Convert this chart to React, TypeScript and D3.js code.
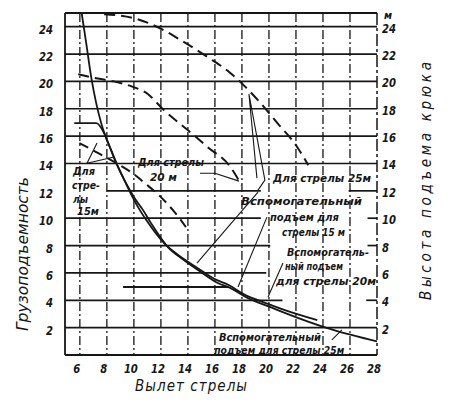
import React from 'react';
import * as d3 from 'd3';

const W = 451;
const H = 404;

// axis ticks
const xTicks = [6, 8, 10, 12, 14, 16, 18, 20, 22, 24, 26, 28];
const yTicksLeft = [2, 4, 6, 8, 10, 12, 14, 16, 18, 20, 22, 24];
const yTicksRight = [2, 4, 6, 8, 10, 12, 14, 16, 18, 20, 22, 24];
const vGridX = [6, 8, 10, 12, 14, 16, 18, 20, 22, 24, 26];

// horizontal grid lines: value and drawn spans (x from..to)
const hGridY = [24, 22, 20, 18, 16, 14, 12, 10, 8, 6, 4, 2];
const hGridSpans: [number, number][][] = [
  [[4.9, 28]],
  [[4.9, 28]],
  [[4.9, 28]],
  [[4.9, 28]],
  [[4.9, 28]],
  [[4.9, 28]],
  [[8.0, 19.4], [25.9, 28]],
  [[4.9, 19.4], [27.3, 28]],
  [[4.9, 20.1], [27.3, 28]],
  [[4.9, 19.8]],
  [[4.9, 21.0], [27.2, 28]],
  [[4.9, 28]],
];

// load capacity curves (solid), [outreach m, load t]
const loadMain: [number, number][] = [
  [6.14, 24.95], [6.47, 22.8], [6.84, 20.31], [7.21, 18.41], [7.58, 16.95],
  [7.95, 15.85], [8.32, 14.98], [8.83, 13.73], [9.42, 12.56], [10.01, 11.54],
  [10.68, 10.59], [11.27, 9.64], [12.52, 7.89], [13.7, 6.94], [14.95, 6.07],
  [16.21, 5.26], [17.16, 4.89], [18.27, 4.24], [20.11, 3.5], [21.07, 3.12],
  [24.76, 1.83], [28.0, 0.99],
];
const loadSecond: [number, number][] = [
  [5.59, 16.95], [7.21, 16.95], [7.8, 16.21], [8.1, 15.49], [8.54, 14.39],
  [9.05, 13.29], [9.64, 12.06], [10.31, 10.81], [10.97, 9.79], [12.22, 8.19],
  [13.48, 7.16], [14.73, 6.35], [15.98, 5.55], [17.02, 5.12], [18.12, 4.45],
  [19.97, 3.72], [21.07, 3.32], [23.58, 2.55],
];
const auxLift15: [number, number][] = [[9.2, 4.97], [17.0, 4.97]];

// hook height curves (dashed), [outreach m, height m]
const hook25: [number, number][] = [
  [7.8, 24.91], [10.01, 24.62], [11.78, 23.96], [13.48, 23.01], [15.47, 21.77],
  [17.16, 20.6], [18.12, 19.73], [19.38, 18.41], [20.63, 16.95], [22.1, 15.19],
  [22.91, 13.88],
];
const hook20: [number, number][] = [
  [5.88, 20.53], [7.21, 20.23], [8.46, 20.01], [9.79, 19.65], [11.05, 19.06],
  [12.22, 17.9], [13.99, 16.44], [15.47, 15.19], [17.16, 13.73], [17.97, 12.42],
];
const hook15: [number, number][] = [
  [5.96, 15.49], [7.36, 14.76], [8.69, 14.03], [9.79, 13.37], [10.9, 12.49],
  [12.0, 11.54], [12.89, 10.59], [13.48, 9.86], [13.85, 9.35],
];

// leader lines of the annotations
const leaders: [number, number][][] = [
  [[14.89, 13.29], [16.0, 13.29], [17.78, 12.71]],
  [[19.11, 12.93], [18.52, 19.07], [19.7, 12.78], [19.19, 12.05]],
  [[7.27, 15.49], [6.53, 14.02], [8.45, 14.46]],
  [[19.19, 11.91], [14.67, 6.72]],
  [[19.85, 10.08], [17.71, 4.97]],
  [[21.04, 6.72], [19.93, 4.24]],
  [[24.66, 1.1], [25.4, 1.83]],
];

export default function App() {
  const x = d3.scaleLinear().domain([4.9, 28]).range([65, 377]);
  const y = d3.scaleLinear().domain([0, 25]).range([355, 13]);
  const curve = d3.line<[number, number]>().x(d => x(d[0])).y(d => y(d[1])).curve(d3.curveMonotoneX);
  const poly = d3.line<[number, number]>().x(d => x(d[0])).y(d => y(d[1]));
  const ink = '#161616';
  const font = '"DejaVu Sans Condensed", "DejaVu Sans", sans-serif';
  const t = { fontFamily: font, fontStyle: 'italic', fontWeight: 700, fill: ink } as const;

  const label = (s: string, xv: number, yv: number, len: number, size = 11) => (
    <text key={s + xv + yv} x={x(xv)} y={y(yv)} fontSize={size} textLength={len} lengthAdjust="spacingAndGlyphs" style={t}>{s}</text>
  );
  const tickLen = (v: number) => (v >= 10 ? 14 : 7);

  return (
    <svg width={W} height={H} style={{ position: 'absolute', left: 0, top: 0, background: '#fff' }}>
      <rect x={0} y={0} width={W} height={H} fill="#fff" />
      {/* vertical grid */}
      {vGridX.map(v => (
        <line key={'v' + v} x1={x(v)} x2={x(v)} y1={y(25)} y2={y(0)} stroke={ink} strokeWidth={1.3} strokeDasharray="9 3 2 3" />
      ))}
      {/* horizontal grid */}
      {hGridY.map((v, i) => hGridSpans[i].map((s, j) => (
        <line key={'h' + v + '-' + j} x1={x(s[0])} x2={x(s[1])} y1={y(v)} y2={y(v)} stroke={ink} strokeWidth={1.7} />
      )))}
      {/* frame */}
      <line x1={x(4.9)} x2={x(28)} y1={y(25)} y2={y(25)} stroke={ink} strokeWidth={1.8} />
      <line x1={x(4.9)} x2={x(28)} y1={y(0)} y2={y(0)} stroke={ink} strokeWidth={1.8} />
      <line x1={x(4.9)} x2={x(4.9)} y1={y(25)} y2={y(0)} stroke={ink} strokeWidth={1.8} />
      <line x1={x(28)} x2={x(28)} y1={y(25)} y2={y(0)} stroke={ink} strokeWidth={1.5} strokeDasharray="12 3 3 3" />

      {/* curves */}
      <path d={curve(hook25) || ''} fill="none" stroke={ink} strokeWidth={2} strokeDasharray="11 6" />
      <path d={curve(hook20) || ''} fill="none" stroke={ink} strokeWidth={2} strokeDasharray="11 6" />
      <path d={curve(hook15) || ''} fill="none" stroke={ink} strokeWidth={2} strokeDasharray="10 6" />
      <path d={curve(loadMain) || ''} fill="none" stroke={ink} strokeWidth={1.8} />
      <path d={curve(loadSecond) || ''} fill="none" stroke={ink} strokeWidth={1.8} />
      <path d={poly(auxLift15) || ''} fill="none" stroke={ink} strokeWidth={2} />
      {leaders.map((l, i) => (
        <path key={'l' + i} d={poly(l) || ''} fill="none" stroke={ink} strokeWidth={1.1} />
      ))}

      {/* tick labels */}
      {yTicksLeft.map(v => (
        <text key={'yl' + v} x={53} y={y(v) + 7} textAnchor="end" fontSize={12.5} textLength={tickLen(v)} lengthAdjust="spacingAndGlyphs" style={t}>{v}</text>
      ))}
      {yTicksRight.map(v => (
        <text key={'yr' + v} x={382} y={y(v) + 6} fontSize={12.5} textLength={tickLen(v)} lengthAdjust="spacingAndGlyphs" style={t}>{v}</text>
      ))}
      <text x={384} y={y(25) + 6} fontSize={11} style={t}>м</text>
      {xTicks.map(v => (
        <text key={'x' + v} x={x(v) - 3} y={373} textAnchor="middle" fontSize={12} textLength={tickLen(v)} lengthAdjust="spacingAndGlyphs" style={t}>{v}</text>
      ))}

      {/* axis titles */}
      <text transform="translate(28,254) rotate(-90)" textAnchor="middle" fontSize={15} textLength={154} lengthAdjust="spacingAndGlyphs" style={{ ...t, fontWeight: 400 }}>Грузоподъемность</text>
      <text transform="translate(431,181) rotate(-90)" textAnchor="middle" fontSize={15} textLength={238} lengthAdjust="spacing" style={{ ...t, fontWeight: 400 }}>Высота подъема крюка</text>
      <text x={191} y={391} textAnchor="middle" fontSize={15} textLength={112} lengthAdjust="spacing" style={{ ...t, fontWeight: 400 }}>Вылет стрелы</text>

      {/* annotations */}
      {label('Для стрелы', 10.3, 13.81, 66)}
      {label('20 м', 11.19, 12.71, 27)}
      {label('Для стрелы 25м', 20.3, 12.64, 98)}
      {label('Для', 5.49, 13.15, 22)}
      {label('стре-', 5.42, 12.13, 28)}
      {label('лы', 5.49, 11.1, 15)}
      {label('15м', 5.79, 10.23, 22)}
      {label('Вспомогательный', 17.93, 10.96, 121)}
      {label('подъем для', 20.07, 9.79, 69)}
      {label('стрелы 15 м', 20.96, 8.69, 63)}
      {label('Вспомогатель-', 21.33, 7.23, 82, 10.5)}
      {label('ный подъем', 21.18, 6.21, 58, 10.5)}
      {label('для стрелы 20м', 20.52, 5.11, 100, 10.5)}
      {label('Вспомогательный', 16.3, 1.0, 102, 10.5)}
      {label('подъем для стрелы 25м', 15.95, 0.07, 130, 10.5)}
    </svg>
  );
}
